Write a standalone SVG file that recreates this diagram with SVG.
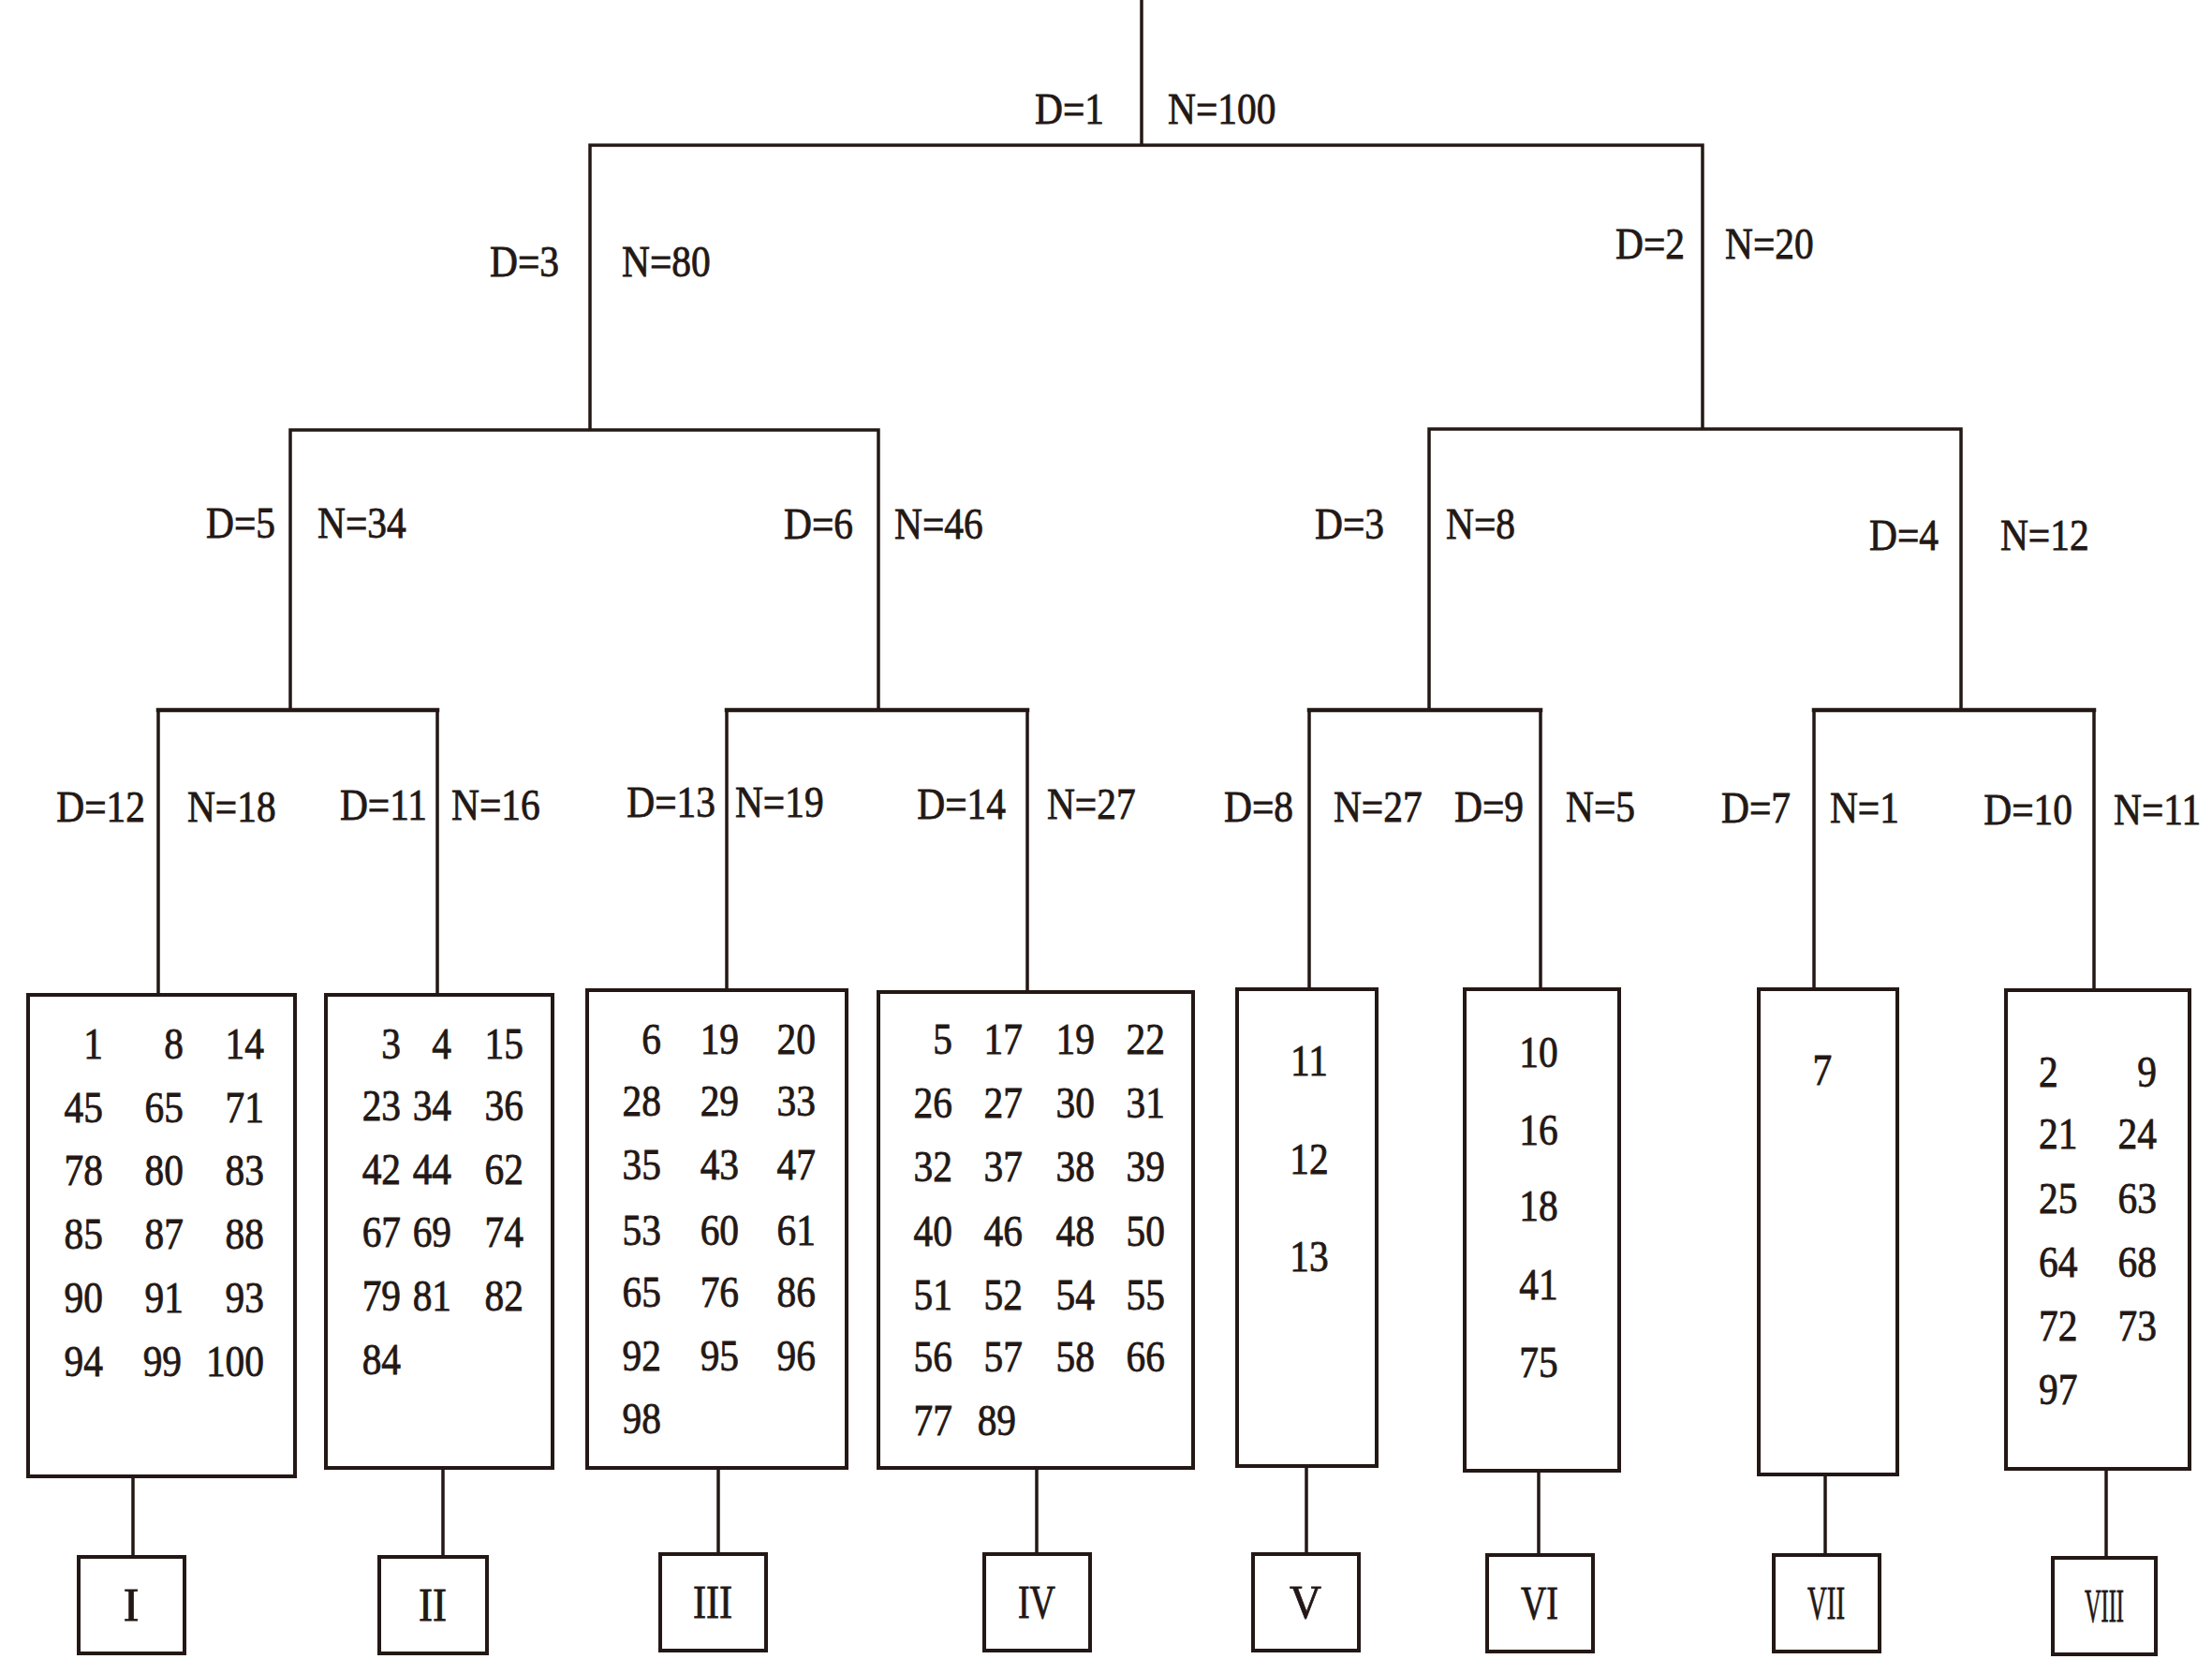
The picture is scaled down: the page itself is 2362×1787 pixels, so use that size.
<svg xmlns="http://www.w3.org/2000/svg" width="2362" height="1787" viewBox="0 0 2362 1787">
<style>
.ln{stroke:#231815;stroke-width:3.5;fill:none;stroke-linecap:square}
.hb{stroke-width:4.5}
.bx{stroke:#231815;stroke-width:4;fill:#fff}
text{font-family:"Liberation Serif","DejaVu Serif",serif;font-size:46px;fill:#231815;stroke:#231815;stroke-width:0.8}
.c{transform:scale(0.9,1)}
.e{text-anchor:end}
.m{text-anchor:middle}
.r{font-size:50px}
</style>
<rect width="2362" height="1787" fill="#fff"/>
<g id="connectors">
<path class="ln" d="M1219,0V155M630,155H1818M630,155V459M1818,155V458M310,459H938M1526,458H2094M310,459V758M938,459V758M1526,458V758M2094,458V758"/>
<path class="ln hb" d="M169,758H467M776,758H1097M1398,758H1645M1937,758H2236"/>
<path class="ln" d="M169,758V1062M467,758V1062M776,758V1057M1097,758V1059M1398,758V1056M1645,758V1056M1937,758V1056M2236,758V1057"/>
<path class="ln" d="M142,1576V1662M473,1567V1662M767,1567V1659M1107,1567V1659M1395,1565V1659M1643,1570V1660M1949,1574V1660M2249,1568V1663"/>
</g>
<g id="labels">
<text class="c e" x="1310" y="132">D=1</text><text class="c" x="1385.6" y="132">N=100</text>
<text class="c e" x="663.3" y="295">D=3</text><text class="c" x="737.8" y="295">N=80</text>
<text class="c e" x="1998.9" y="276">D=2</text><text class="c" x="2046.7" y="276">N=20</text>
<text class="c e" x="326.7" y="574">D=5</text><text class="c" x="376.7" y="574">N=34</text>
<text class="c e" x="1012.2" y="575">D=6</text><text class="c" x="1061.1" y="575">N=46</text>
<text class="c e" x="1642.2" y="575">D=3</text><text class="c" x="1715.6" y="575">N=8</text>
<text class="c e" x="2300" y="587">D=4</text><text class="c" x="2373.3" y="587">N=12</text>
<text class="c e" x="172.2" y="877">D=12</text><text class="c" x="222.2" y="877">N=18</text>
<text class="c e" x="506.7" y="875">D=11</text><text class="c" x="535.6" y="875">N=16</text>
<text class="c e" x="848.9" y="872">D=13</text><text class="c" x="872.2" y="872">N=19</text>
<text class="c e" x="1193.3" y="874">D=14</text><text class="c" x="1242.2" y="874">N=27</text>
<text class="c e" x="1534.4" y="877">D=8</text><text class="c" x="1582.2" y="877">N=27</text>
<text class="c e" x="1807.8" y="877">D=9</text><text class="c" x="1857.8" y="877">N=5</text>
<text class="c e" x="2124.4" y="878">D=7</text><text class="c" x="2171.1" y="878">N=1</text>
<text class="c e" x="2458.9" y="880">D=10</text><text class="c" x="2507.8" y="880">N=11</text>
</g>
<g id="box1">
<rect class="bx" x="30" y="1062" width="285" height="514"/>
<text class="c e" x="122.2" y="1130">1</text><text class="c e" x="217.8" y="1130">8</text><text class="c e" x="313.3" y="1130">14</text>
<text class="c e" x="122.2" y="1198">45</text><text class="c e" x="217.8" y="1198">65</text><text class="c e" x="313.3" y="1198">71</text>
<text class="c e" x="122.2" y="1265">78</text><text class="c e" x="217.8" y="1265">80</text><text class="c e" x="313.3" y="1265">83</text>
<text class="c e" x="122.2" y="1333">85</text><text class="c e" x="217.8" y="1333">87</text><text class="c e" x="313.3" y="1333">88</text>
<text class="c e" x="122.2" y="1401">90</text><text class="c e" x="217.8" y="1401">91</text><text class="c e" x="313.3" y="1401">93</text>
<text class="c e" x="122.2" y="1469">94</text><text class="c e" x="215.6" y="1469">99</text><text class="c e" x="313.3" y="1469">100</text>
</g>
<g id="box2">
<rect class="bx" x="348" y="1062" width="242" height="505"/>
<text class="c e" x="475.6" y="1130">3</text><text class="c e" x="535.6" y="1130">4</text><text class="c e" x="621.1" y="1130">15</text>
<text class="c e" x="475.6" y="1196">23</text><text class="c e" x="535.6" y="1196">34</text><text class="c e" x="621.1" y="1196">36</text>
<text class="c e" x="475.6" y="1264">42</text><text class="c e" x="535.6" y="1264">44</text><text class="c e" x="621.1" y="1264">62</text>
<text class="c e" x="475.6" y="1331">67</text><text class="c e" x="535.6" y="1331">69</text><text class="c e" x="621.1" y="1331">74</text>
<text class="c e" x="475.6" y="1399">79</text><text class="c e" x="535.6" y="1399">81</text><text class="c e" x="621.1" y="1399">82</text>
<text class="c e" x="475.6" y="1467">84</text>
</g>
<g id="box3">
<rect class="bx" x="627" y="1057" width="277" height="510"/>
<text class="c e" x="784.4" y="1125">6</text><text class="c e" x="876.7" y="1125">19</text><text class="c e" x="967.8" y="1125">20</text>
<text class="c e" x="784.4" y="1191">28</text><text class="c e" x="876.7" y="1191">29</text><text class="c e" x="967.8" y="1191">33</text>
<text class="c e" x="784.4" y="1259">35</text><text class="c e" x="876.7" y="1259">43</text><text class="c e" x="967.8" y="1259">47</text>
<text class="c e" x="784.4" y="1329">53</text><text class="c e" x="876.7" y="1329">60</text><text class="c e" x="967.8" y="1329">61</text>
<text class="c e" x="784.4" y="1395">65</text><text class="c e" x="876.7" y="1395">76</text><text class="c e" x="967.8" y="1395">86</text>
<text class="c e" x="784.4" y="1463">92</text><text class="c e" x="876.7" y="1463">95</text><text class="c e" x="967.8" y="1463">96</text>
<text class="c e" x="784.4" y="1530">98</text>
</g>
<g id="box4">
<rect class="bx" x="938" y="1059" width="336" height="508"/>
<text class="c e" x="1130" y="1125">5</text><text class="c e" x="1213.3" y="1125">17</text><text class="c e" x="1298.9" y="1125">19</text><text class="c e" x="1382.2" y="1125">22</text>
<text class="c e" x="1130" y="1193">26</text><text class="c e" x="1213.3" y="1193">27</text><text class="c e" x="1298.9" y="1193">30</text><text class="c e" x="1382.2" y="1193">31</text>
<text class="c e" x="1130" y="1261">32</text><text class="c e" x="1213.3" y="1261">37</text><text class="c e" x="1298.9" y="1261">38</text><text class="c e" x="1382.2" y="1261">39</text>
<text class="c e" x="1130" y="1330">40</text><text class="c e" x="1213.3" y="1330">46</text><text class="c e" x="1298.9" y="1330">48</text><text class="c e" x="1382.2" y="1330">50</text>
<text class="c e" x="1130" y="1398">51</text><text class="c e" x="1213.3" y="1398">52</text><text class="c e" x="1298.9" y="1398">54</text><text class="c e" x="1382.2" y="1398">55</text>
<text class="c e" x="1130" y="1464">56</text><text class="c e" x="1213.3" y="1464">57</text><text class="c e" x="1298.9" y="1464">58</text><text class="c e" x="1382.2" y="1464">66</text>
<text class="c e" x="1130" y="1532">77</text><text class="c e" x="1205.6" y="1532">89</text>
</g>
<g id="box5">
<rect class="bx" x="1321" y="1056" width="149" height="509"/>
<text class="c m" x="1553.3" y="1148">11</text>
<text class="c m" x="1553.3" y="1253">12</text>
<text class="c m" x="1553.3" y="1357">13</text>
</g>
<g id="box6">
<rect class="bx" x="1564" y="1056" width="165" height="514"/>
<text class="c m" x="1825.6" y="1139">10</text>
<text class="c m" x="1825.6" y="1222">16</text>
<text class="c m" x="1825.6" y="1303">18</text>
<text class="c m" x="1825.6" y="1387">41</text>
<text class="c m" x="1825.6" y="1470">75</text>
</g>
<g id="box7">
<rect class="bx" x="1878" y="1056" width="148" height="518"/>
<text class="c m" x="2162.2" y="1158">7</text>
</g>
<g id="box8">
<rect class="bx" x="2142" y="1057" width="196" height="511"/>
<text class="c" x="2418.9" y="1160">2</text><text class="c e" x="2558.9" y="1160">9</text>
<text class="c" x="2418.9" y="1226">21</text><text class="c e" x="2558.9" y="1226">24</text>
<text class="c" x="2418.9" y="1295">25</text><text class="c e" x="2558.9" y="1295">63</text>
<text class="c" x="2418.9" y="1363">64</text><text class="c e" x="2558.9" y="1363">68</text>
<text class="c" x="2418.9" y="1431">72</text><text class="c e" x="2558.9" y="1431">73</text>
<text class="c" x="2418.9" y="1499">97</text>
</g>
<g id="r1"><rect class="bx" x="84" y="1662" width="113" height="103"/><text class="m r" x="140" y="1730">I</text></g>
<g id="r2"><rect class="bx" x="405" y="1662" width="115" height="103"/><text class="m r" x="462" y="1730" textLength="30" lengthAdjust="spacingAndGlyphs">II</text></g>
<g id="r3"><rect class="bx" x="705" y="1659" width="113" height="103"/><text class="m r" x="761" y="1727" textLength="42" lengthAdjust="spacingAndGlyphs">III</text></g>
<g id="r4"><rect class="bx" x="1051" y="1659" width="113" height="103"/><text class="m r" x="1107" y="1727" textLength="40" lengthAdjust="spacingAndGlyphs">IV</text></g>
<g id="r5"><rect class="bx" x="1338" y="1659" width="113" height="103"/><text class="m r" x="1394" y="1727" textLength="34" lengthAdjust="spacingAndGlyphs">V</text></g>
<g id="r6"><rect class="bx" x="1588" y="1660" width="113" height="103"/><text class="m r" x="1644" y="1728" textLength="40" lengthAdjust="spacingAndGlyphs">VI</text></g>
<g id="r7"><rect class="bx" x="1894" y="1660" width="113" height="103"/><text class="m r" x="1950" y="1728" textLength="40" lengthAdjust="spacingAndGlyphs">VII</text></g>
<g id="r8"><rect class="bx" x="2192" y="1663" width="110" height="103"/><text class="m r" x="2247" y="1731" textLength="42" lengthAdjust="spacingAndGlyphs">VIII</text></g>
</svg>
